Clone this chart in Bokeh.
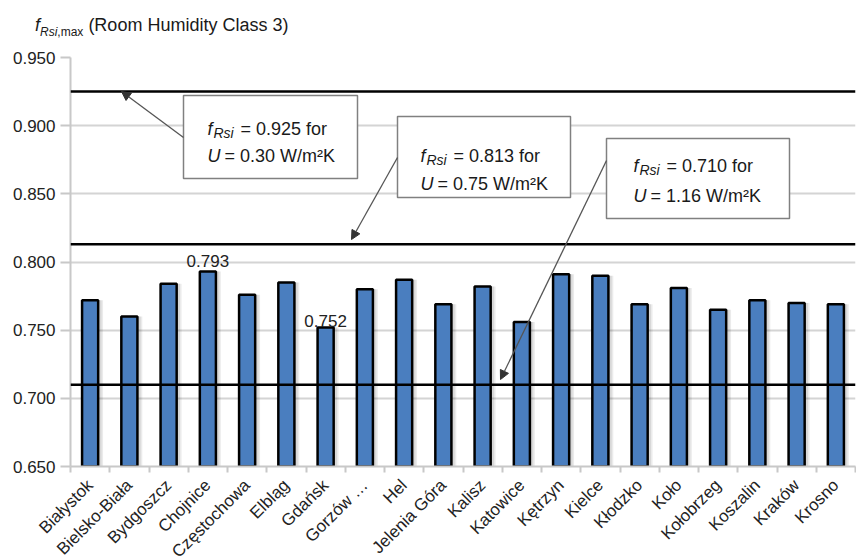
import math
from bokeh.plotting import figure
from bokeh.layouts import column
from bokeh.models import (ColumnDataSource, FixedTicker, Span, BoxAnnotation, Label,
                          Arrow, NormalHead, NumeralTickFormatter, Div)
from bokeh.transform import dodge
from bokeh.embed import file_html
from bokeh.resources import INLINE
from bokeh.core.properties import value

# ---------------- data ----------------
cities = ["Białystok", "Bielsko-Biała", "Bydgoszcz", "Chojnice", "Częstochowa", "Elbląg",
          "Gdańsk", "Gorzów …", "Hel", "Jelenia Góra", "Kalisz", "Katowice", "Kętrzyn",
          "Kielce", "Kłodzko", "Koło", "Kołobrzeg", "Koszalin", "Kraków", "Krosno"]
f_rsi_max = [0.772, 0.760, 0.784, 0.793, 0.776, 0.785, 0.752, 0.780, 0.787, 0.769,
             0.782, 0.756, 0.791, 0.790, 0.769, 0.781, 0.765, 0.772, 0.770, 0.769]
limit_f = [0.925, 0.813, 0.710]
limit_u = ["0.30", "0.75", "1.16"]
y_ticks = [0.650, 0.700, 0.750, 0.800, 0.850, 0.900, 0.950]

FONT = "Liberation Sans"
BLUE = "#4a7ebf"
N = len(cities)

TITLE_H = 45
FRAME_L, FRAME_T, FRAME_W, FRAME_H = 70, 57, 785, 409
BOTTOM = 560 - (FRAME_T + FRAME_H)

p = figure(frame_width=FRAME_W, frame_height=FRAME_H, output_backend="svg",
           toolbar_location=None,
           x_range=(-0.5, N - 0.5), y_range=(0.650, 0.950),
           min_border_left=FRAME_L, min_border_right=1,
           min_border_top=FRAME_T - TITLE_H, min_border_bottom=BOTTOM)
p.outline_line_color = None
p.background_fill_color = "white"
p.border_fill_color = "white"

# helpers: annotation positions given in page pixel coords -> data coords
unit = FRAME_W / N
def X(px):
    return (px - FRAME_L) / unit - 0.5
def Y(py):
    return 0.950 - (py - FRAME_T) * 0.3 / FRAME_H

xs = list(range(N))
src = ColumnDataSource(dict(x=xs, v=f_rsi_max, name=cities))

# shadow + bars
p.vbar(x=dodge("x", 0.10), top="v", bottom=0.6, width=0.46, source=src,
       fill_color="#000000", fill_alpha=0.08, line_alpha=0)
p.vbar(x=dodge("x", 0.07), top="v", bottom=0.6, width=0.44, source=src,
       fill_color="#000000", fill_alpha=0.08, line_alpha=0)
p.vbar(x="x", top="v", bottom=0.6, width=0.41, source=src,
       fill_color=BLUE, line_color="black", line_width=2.5)

# value labels for max & min
imax = f_rsi_max.index(max(f_rsi_max))
imin = f_rsi_max.index(min(f_rsi_max))
lab = ColumnDataSource(dict(x=[imax, imin], y=[f_rsi_max[imax], f_rsi_max[imin]],
                            t=[f"{f_rsi_max[imax]:.3f}", f"{f_rsi_max[imin]:.3f}"],
                            off=[-11, -6]))
p.text(x="x", y="y", text="t", source=lab, text_align="center", text_baseline="alphabetic",
       y_offset="off", text_font=value(FONT), text_font_size="17px", text_color="#222222")

# axes
p.yaxis.ticker = FixedTicker(ticks=y_ticks)
p.yaxis.formatter = NumeralTickFormatter(format="0.000")
p.yaxis.major_label_text_font = FONT
p.yaxis.major_label_text_font_size = "17px"
p.yaxis.major_label_text_color = "#222222"
p.yaxis.axis_line_color = "#c8c8c8"
p.yaxis.axis_line_width = 2
p.yaxis.major_tick_line_color = "#c8c8c8"
p.yaxis.major_tick_line_width = 2
p.yaxis.major_tick_out = 10
p.yaxis.major_tick_in = 0
p.yaxis.minor_tick_line_color = None

p.xaxis.ticker = FixedTicker(ticks=xs, minor_ticks=[i - 0.5 for i in range(N + 1)])
p.xaxis.major_label_overrides = {i: c for i, c in enumerate(cities)}
p.xaxis.major_label_orientation = math.pi / 4
p.xaxis.major_label_text_font = FONT
p.xaxis.major_label_text_font_size = "17px"
p.xaxis.major_label_text_color = "#222222"
p.xaxis.axis_line_color = "#c8c8c8"
p.xaxis.axis_line_width = 2
p.xaxis.major_tick_line_color = None
p.xaxis.minor_tick_line_color = "#c8c8c8"
p.xaxis.minor_tick_line_width = 2
p.xaxis.minor_tick_out = 6
p.xaxis.minor_tick_in = 0
p.xaxis.major_label_standoff = 10

p.xgrid.grid_line_color = None
p.ygrid.ticker = FixedTicker(ticks=y_ticks)
p.ygrid.grid_line_color = "#d4d4d4"
p.ygrid.grid_line_width = 2

# limit lines
for f in limit_f:
    p.add_layout(Span(location=f, dimension="width", line_color="black", line_width=2.5))

# annotation boxes (page px: left, right, top, bottom)
boxes = [(183, 357, 95, 178), (397, 570, 116, 197), (606, 789, 138, 218)]
text_pos = [(207, 128, 155), (420, 155, 183), (633, 165, 195)]
arrows = [((183, 137), (121, 91)), ((397, 157), (351, 239)), ((606, 160), (500, 379))]

for (l, r, t, b) in boxes:
    p.add_layout(BoxAnnotation(left=X(l), right=X(r), top=Y(t), bottom=Y(b),
                               fill_color="white", fill_alpha=1.0,
                               line_color="#808080", line_width=1.5, line_alpha=1.0))

for (s, e) in arrows:
    p.add_layout(Arrow(end=NormalHead(size=9, fill_color="#333333", line_color="#333333"),
                       x_start=X(s[0]), y_start=Y(s[1]), x_end=X(e[0]), y_end=Y(e[1]),
                       line_color="#555555", line_width=1.3))

def lbl(px, py, text, size=18, style="normal"):
    p.add_layout(Label(x=X(px), y=Y(py), text=text, text_font=FONT,
                       text_font_size=f"{size}px", text_font_style=style,
                       text_color="#1a1a1a", text_align="left", text_baseline="alphabetic"))

for (tx, b1, b2), f, u in zip(text_pos, limit_f, limit_u):
    lbl(tx, b1, "f", 18, "italic")
    lbl(tx + 6, b1 + 4, "Rsi", 14, "italic")
    lbl(tx + 33, b1, f"= {f:.3f} for", 18)
    lbl(tx, b2, "U", 18, "italic")
    lbl(tx + 17, b2, f"= {u} W/m²K", 18)

# title (above the plot frame)
title_html = ('<div style="padding:13px 0 0 35px; font-family:\'Liberation Sans\'; '
              'font-size:18px; color:#1a1a1a; white-space:nowrap;">'
              '<i>f</i><sub style="font-size:12px;"><i>Rsi</i>,max</sub> '
              '(Room Humidity Class 3)</div>')
title = Div(text=title_html, width=856, height=TITLE_H, margin=(0, 0, 0, 0))

layout = column(title, p, spacing=0)
open("out.html", "w").write(file_html(layout, INLINE))
